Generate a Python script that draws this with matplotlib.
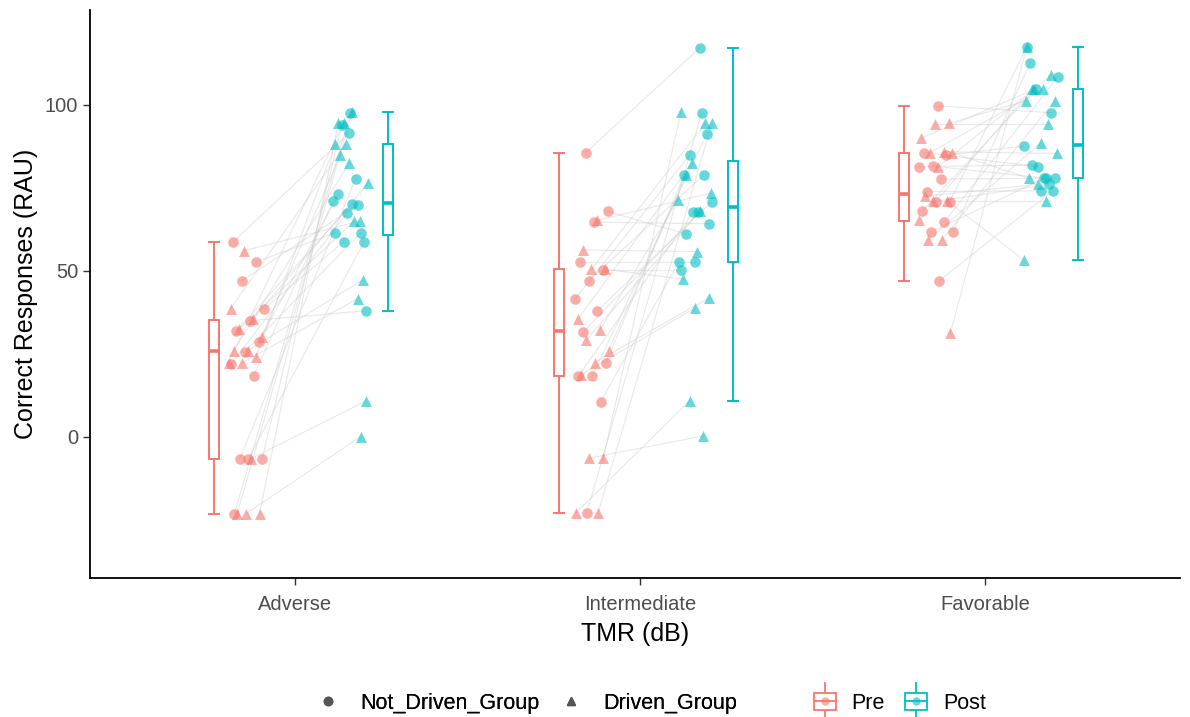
import numpy as np
import matplotlib
matplotlib.use('Agg')
import matplotlib.pyplot as plt
from matplotlib.lines import Line2D
from matplotlib.patches import Rectangle
from matplotlib.legend_handler import HandlerBase

plt.rcParams['font.family'] = ['Liberation Sans', 'DejaVu Sans']

conditions = ['Adverse', 'Intermediate', 'Favorable']
PRE_COL = '#F8766D'
POST_COL = '#00BFC4'

# not driven group (circles), pre -> post per participant
adv_nd_pre = [58.8, 52.7, 47.0, 38.6, 35.0, 32.0, 28.7, 25.7, 22.0, 18.4, -6.6, -6.6, -6.6, -23.2]
adv_nd_post = [91.5, 61.4, 69.9, 58.8, 38.0, 70.1, 73.1, 61.5, 67.4, 71.1, 77.7, 94.0, 58.8, 97.5]
int_nd_pre = [85.6, 67.9, 64.7, 52.8, 50.3, 47.1, 41.5, 38.0, 31.7, 22.2, 18.2, 18.2, 10.6, -23.0]
int_nd_post = [117.3, 61.1, 64.2, 52.8, 50.3, 78.8, 84.9, 70.9, 67.6, 78.9, 91.3, 67.6, 52.8, 97.5]
fav_nd_pre = [99.7, 85.6, 84.9, 81.6, 81.4, 77.7, 73.9, 70.9, 70.9, 67.9, 64.7, 61.7, 61.7, 47.0]
fav_nd_post = [97.7, 81.4, 87.6, 77.9, 81.9, 77.9, 74.1, 117.6, 76.1, 104.7, 108.5, 77.9, 112.7, 74.1]

# driven group (triangles)
adv_d_pre = [56.1, 38.6, 35.4, 32.4, 30.2, 26.0, 26.0, 24.2, 22.4, 22.4, -6.6, -23.2, -23.2, -23.2]
adv_d_post = [65.0, 88.2, 76.4, 65.0, 85.0, 47.3, 82.4, 88.2, 41.6, 94.7, 10.8, 98.0, 94.5, 0.1]
int_d_pre = [65.2, 56.3, 50.5, 50.5, 35.4, 32.2, 29.2, 26.0, 22.4, 18.7, -6.4, -6.4, -23.0, -23.0]
int_d_post = [73.4, 55.8, 47.5, 94.5, 82.4, 71.5, 67.9, 78.9, 41.8, 38.8, 98.0, 0.3, 10.9, 94.5]
fav_d_pre = [94.5, 94.3, 90.0, 85.9, 85.6, 85.6, 81.4, 72.5, 71.2, 71.2, 65.2, 59.3, 59.3, 31.2]
fav_d_post = [101.2, 94.3, 104.7, 85.4, 104.7, 77.9, 109.0, 76.1, 53.3, 71.2, 104.7, 101.2, 88.5, 117.6]

nd_pre = [adv_nd_pre, int_nd_pre, fav_nd_pre]
nd_post = [adv_nd_post, int_nd_post, fav_nd_post]
d_pre = [adv_d_pre, int_d_pre, fav_d_pre]
d_post = [adv_d_post, int_d_post, fav_d_post]

PRE_OFF, POST_OFF = -0.14, 0.16
BOX_PRE, BOX_POST = -0.235, 0.27
SPREAD = 0.105


def jitter(n, k):
    # deterministic spread of points around their centre
    return ((np.arange(n) * 0.618 + k) % 1.0 - 0.5) * SPREAD


fig = plt.figure(figsize=(11.9, 7.17), dpi=100)
ax = fig.add_axes([0.0756, 0.194, 0.916, 0.792])

for i in range(3):
    for g, (pre, post, mk) in enumerate([(nd_pre[i], nd_post[i], 'o'), (d_pre[i], d_post[i], '^')]):
        n = len(pre)
        xpre = i + PRE_OFF + jitter(n, 0.13 + 0.31 * g + 0.2 * i)
        xpost = i + POST_OFF + jitter(n, 0.47 + 0.29 * g + 0.17 * i)
        for a, b, c, d in zip(xpre, pre, xpost, post):
            ax.plot([a, c], [b, d], color='#cccccc', lw=0.8, alpha=0.45, zorder=1)
        s = 58 if mk == 'o' else 62
        ax.scatter(xpre, pre, marker=mk, s=s, color=PRE_COL, alpha=0.6, linewidths=0, zorder=2)
        ax.scatter(xpost, post, marker=mk, s=s, color=POST_COL, alpha=0.6, linewidths=0, zorder=2)

    for vals, off, col in [(nd_pre[i] + d_pre[i], BOX_PRE, PRE_COL), (nd_post[i] + d_post[i], BOX_POST, POST_COL)]:
        ax.boxplot([vals], positions=[i + off], widths=0.028, capwidths=0.028, showfliers=False,
                   patch_artist=True, manage_ticks=False,
                   boxprops=dict(facecolor='white', edgecolor=col, linewidth=1.4),
                   whiskerprops=dict(color=col, linewidth=1.4),
                   capprops=dict(color=col, linewidth=1.4),
                   medianprops=dict(color=col, linewidth=2.6),
                   zorder=3)

ax.set_xlim(-0.594, 2.565)
ax.set_ylim(-42.5, 128.6)
ax.set_xticks(range(3))
ax.set_xticklabels(conditions)
ax.set_yticks([0, 50, 100])
ax.tick_params(labelsize=14.5, colors='#333333', labelcolor='#4D4D4D', length=5, width=1)
ax.tick_params(axis='x', pad=7)
ax.set_xlabel('TMR (dB)', fontsize=18, labelpad=6)
ax.set_ylabel('Correct Responses (RAU)', fontsize=18, labelpad=5)
for side in ['top', 'right']:
    ax.spines[side].set_visible(False)
for side in ['left', 'bottom']:
    ax.spines[side].set_linewidth(1.3)


class BoxHandler(HandlerBase):
    def create_artists(self, legend, orig_handle, xdescent, ydescent, width, height, fontsize, trans):
        col = orig_handle.get_color()
        cx = width / 2 - xdescent
        cy = height / 2 - ydescent
        bw = width * 0.8
        bh = height * 0.95
        box = Rectangle((cx - bw / 2, cy - bh / 2), bw, bh, facecolor='white', edgecolor=col, lw=1.3, transform=trans)
        vl = Line2D([cx, cx], [cy - height * 1.05, cy + height * 1.05], color=col, lw=1.3, transform=trans)
        ml = Line2D([cx - bw / 2, cx + bw / 2], [cy, cy], color=col, lw=1.3, transform=trans)
        dot = Line2D([cx], [cy], marker='o', ms=6, color=col, alpha=0.6, mec='none', transform=trans)
        return [vl, box, ml, dot]


shape_handles = [Line2D([], [], ls='none', marker='o', ms=6, color='#555555'),
                 Line2D([], [], ls='none', marker='^', ms=6, color='#555555')]
leg1 = fig.legend(shape_handles, ['Not_Driven_Group', 'Driven_Group'], loc='center',
                  bbox_to_anchor=(0.443, 0.0195), ncol=2, frameon=False, fontsize=15.5,
                  handlelength=1.0, columnspacing=1.0, handletextpad=1.0)
box_handles = [Line2D([], [], color=PRE_COL), Line2D([], [], color=POST_COL)]
leg2 = fig.legend(box_handles, ['Pre', 'Post'], loc='center', bbox_to_anchor=(0.755, 0.0195),
                  ncol=2, frameon=False, fontsize=15.5, handlelength=1.3, handleheight=0.9,
                  columnspacing=0.8, handletextpad=0.6,
                  handler_map={Line2D: BoxHandler()})
fig.add_artist(leg1)

fig.savefig('out.png', dpi=100)
